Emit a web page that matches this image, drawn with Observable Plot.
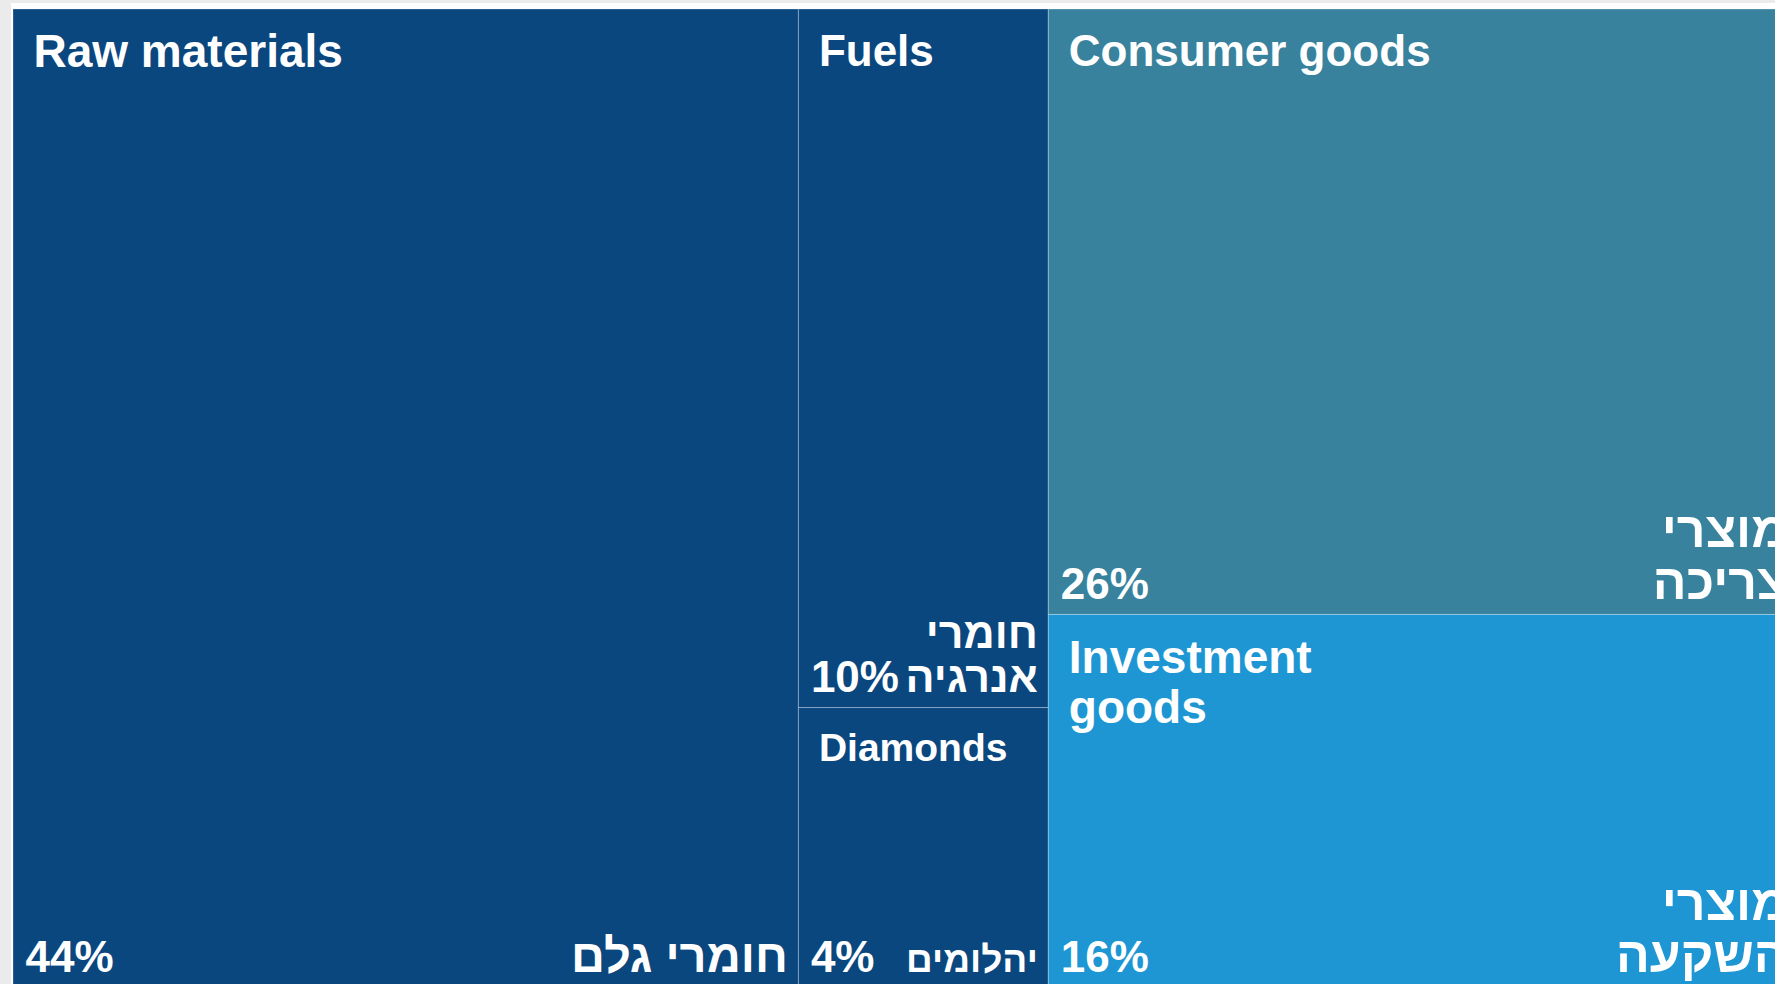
<!DOCTYPE html>
<html><head><meta charset="utf-8">
<script src="https://cdn.jsdelivr.net/npm/d3@7"></script>
<script src="https://cdn.jsdelivr.net/npm/@observablehq/plot@0.6"></script>
<style>
html,body{margin:0;padding:0;overflow:hidden;background:#ebebeb;width:1775px;height:984px;}
#panel{position:absolute;left:11px;top:3px;width:1764px;height:981px;background:#fff;}
#chart{position:absolute;left:0;top:0;}
</style></head><body><div id="panel"></div><div id="chart"></div>
<script>
const categories = ["Raw materials", "Fuels", "Diamonds", "Consumer goods", "Investment\ngoods"];
const hebrewLabels = ["חומרי גלם", "חומרי\nאנרגיה", "יהלומים", "מוצרי\nצריכה", "מוצרי\nהשקעה"];
const shares = [44, 10, 4, 26, 16];
const groups = ["raw", "energy", "energy", "goods", "goods"];
const colors = ["#0b477f", "#0b477f", "#0b477f", "#38829e", "#1e96d3"];

// styling (font sizes per tile)
const titleSizes = [46, 44, 39, 44, 46];
const hebrewSizes = [47, 43, 37, 50, 50];

const tree = {
  children: d3.groups(d3.range(categories.length), i => groups[i])
    .map(([g, idx]) => ({name: g, children: idx.map(i => ({i}))}))
};
const root = d3.hierarchy(tree).sum(d => d.i !== undefined ? shares[d.i] : 0);
d3.treemap().tile(d3.treemapSliceDice).size([1, 1])(root);
const cells = root.leaves().map(l => ({
  i: l.data.i,
  category: categories[l.data.i],
  hebrew: hebrewLabels[l.data.i],
  share: shares[l.data.i],
  color: colors[l.data.i],
  x0: l.x0, x1: l.x1, y0: l.y0, y1: l.y1
}));

const chart = Plot.plot({
  width: 1775, height: 984,
  margin: 0,
  x: {domain: [0, 1], range: [13, 1798], axis: null},
  y: {domain: [0, 1], range: [9, 987], axis: null},
  color: {type: "identity"},
  style: {background: "transparent", fontFamily: "'Liberation Sans', Arial, sans-serif"},
  marks: [
    Plot.rect(cells, {x1: "x0", x2: "x1", y1: "y0", y2: "y1", fill: "color", stroke: "rgba(255,255,255,0.28)", strokeWidth: 1}),
    Plot.text(cells, {x: "x0", y: "y0", text: "category", textAnchor: "start", lineAnchor: "top",
      dx: 20, dy: 22, fill: "white", fontWeight: "bold", lineHeight: 1.1,
      fontSize: d => titleSizes[d.i]}),
    Plot.text(cells, {x: "x0", y: "y1", text: d => d.share + "%", textAnchor: "start", lineAnchor: "bottom",
      dx: 12, dy: -16, fill: "white", fontWeight: "bold", fontSize: 44}),
    Plot.text(cells, {x: "x1", y: "y1", text: "hebrew", textAnchor: "end", lineAnchor: "bottom",
      dx: -11, dy: -16, fill: "white", fontWeight: "bold", lineHeight: 1.03,
      fontSize: d => hebrewSizes[d.i]})
  ]
});
document.getElementById("chart").appendChild(chart);
</script></body></html>
